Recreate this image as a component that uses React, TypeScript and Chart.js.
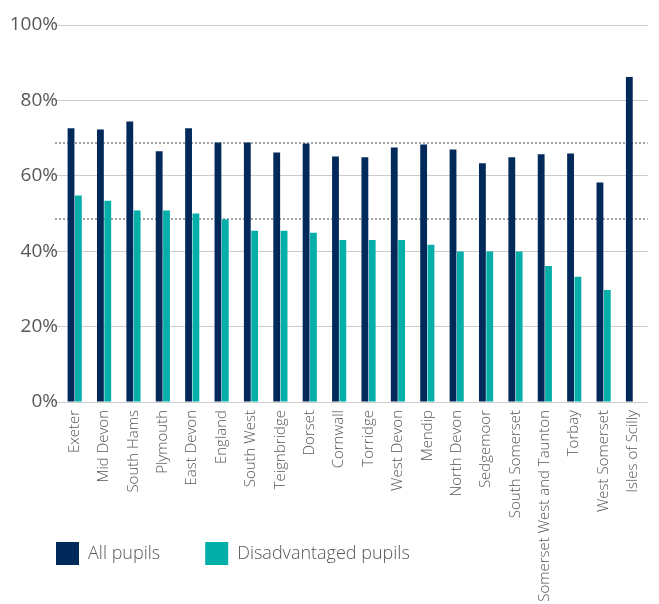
import React, { useEffect, useRef } from "react";
import { Chart, registerables } from "chart.js";

Chart.register(...registerables);

const categories = [
  "Exeter",
  "Mid Devon",
  "South Hams",
  "Plymouth",
  "East Devon",
  "England",
  "South West",
  "Teignbridge",
  "Dorset",
  "Cornwall",
  "Torridge",
  "West Devon",
  "Mendip",
  "North Devon",
  "Sedgemoor",
  "South Somerset",
  "Somerset West and Taunton",
  "Torbay",
  "West Somerset",
  "Isles of Scilly",
];

const allPupils = [
  72.6, 72.3, 74.4, 66.5, 72.6, 68.8, 68.8, 66.2, 68.6, 65.1, 64.9, 67.5, 68.3,
  67.0, 63.3, 64.9, 65.7, 65.9, 58.2, 86.2,
];

const disadvantagedPupils = [
  54.8, 53.4, 50.8, 50.8, 50.0, 48.5, 45.4, 45.4, 44.9, 43.0, 43.0, 43.0, 41.7,
  39.9, 39.9, 39.9, 36.1, 33.2, 29.7, null,
];

const seriesNames = ["All pupils", "Disadvantaged pupils"];
const seriesColors = ["#012a5a", "#04afa9"];
const yTickValues = [0, 20, 40, 60, 80, 100];
const referenceCategory = "England";

const FONT = "'Open Sans', Lato, 'DejaVu Sans', sans-serif";
const TEXT_COLOR = "#575757";

const referenceLinesPlugin = {
  id: "referenceLines",
  beforeDatasetsDraw(chart: any) {
    const idx = categories.indexOf(referenceCategory);
    const values = [allPupils[idx], disadvantagedPupils[idx]];
    const { ctx, chartArea } = chart;
    const yScale = chart.scales.y;
    ctx.save();
    ctx.strokeStyle = "#a3a3a3";
    ctx.lineWidth = 2;
    ctx.setLineDash([2, 2]);
    values.forEach((v) => {
      if (v == null) return;
      const y = Math.round(yScale.getPixelForValue(v));
      ctx.beginPath();
      ctx.moveTo(chartArea.left - 5, y);
      ctx.lineTo(chartArea.right, y);
      ctx.stroke();
    });
    ctx.restore();
  },
};

export default function App() {
  const canvasRef = useRef<HTMLCanvasElement | null>(null);

  useEffect(() => {
    if (!canvasRef.current) return;
    const legendPadding = 45;
    const chart = new Chart(canvasRef.current, {
      type: "bar",
      data: {
        labels: categories,
        datasets: [
          {
            label: seriesNames[0],
            data: allPupils,
            backgroundColor: seriesColors[0],
            borderWidth: 0,
            categoryPercentage: 0.5,
            barPercentage: 0.93,
          },
          {
            label: seriesNames[1],
            data: disadvantagedPupils as any,
            backgroundColor: seriesColors[1],
            borderWidth: 0,
            categoryPercentage: 0.5,
            barPercentage: 0.93,
          },
        ],
      },
      options: {
        animation: false,
        responsive: false,
        maintainAspectRatio: false,
        layout: {
          padding: { top: 25, left: 11, right: 0, bottom: 29 },
        },
        plugins: {
          tooltip: { enabled: false },
          legend: {
            position: "bottom",
            align: "start",
            labels: {
              boxWidth: 23,
              boxHeight: 23,
              padding: legendPadding,
              color: TEXT_COLOR,
              font: { family: FONT, size: 18, weight: "300" as any },
            },
          },
        },
        scales: {
          x: {
            grid: { display: false, drawTicks: false },
            border: { display: false },
            ticks: {
              autoSkip: false,
              minRotation: 90,
              maxRotation: 90,
              padding: 8,
              color: TEXT_COLOR,
              font: { family: FONT, size: 15, weight: "300" as any },
            },
            afterFit(scale: any) {
              scale.height = 140 - legendPadding;
              scale._computeLabelArea = () => undefined;
            },
          },
          y: {
            min: 0,
            max: 100,
            afterBuildTicks(scale: any) {
              scale.ticks = yTickValues.map((v) => ({ value: v }));
            },
            grid: {
              color: "#cccccc",
              lineWidth: 1,
              drawTicks: true,
              tickLength: 5,
            },
            border: { display: false },
            ticks: {
              padding: -3,
              color: TEXT_COLOR,
              font: { family: FONT, size: 19, weight: "normal" as any },
              callback: (v: any) => `${v}%`,
            },
            afterFit(scale: any) {
              scale.width = 49;
              scale._computeLabelArea = () => undefined;
            },
          },
        },
      },
      plugins: [referenceLinesPlugin],
    });
    return () => chart.destroy();
  }, []);

  return (
    <div style={{ position: "absolute", left: 0, top: 0, width: 659, height: 604 }}>
      <canvas ref={canvasRef} width={659} height={604} style={{ display: "block" }} />
    </div>
  );
}
